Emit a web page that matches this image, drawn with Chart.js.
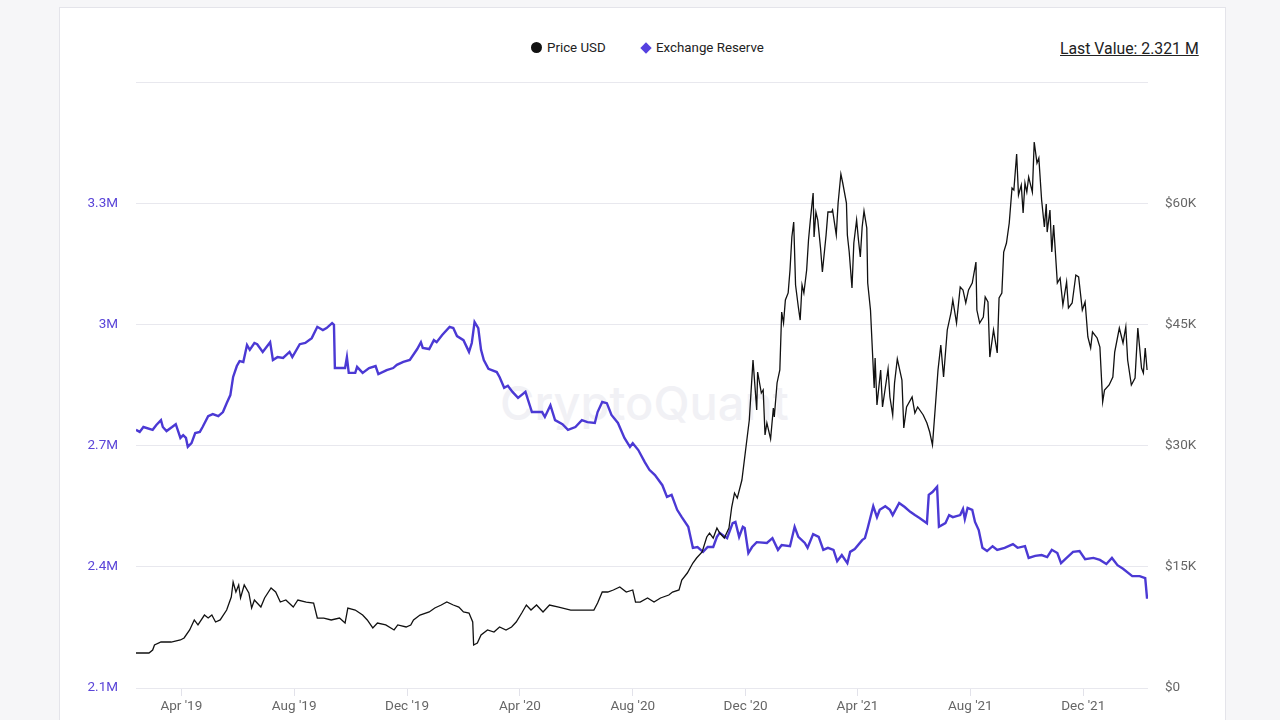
<!DOCTYPE html>
<html>
<head>
<meta charset="utf-8">
<script src="https://cdn.jsdelivr.net/npm/chart.js@4.4.1/dist/chart.umd.min.js"></script>
<style>
  html,body{margin:0;padding:0;background:#f6f6f8;width:1280px;height:720px;overflow:hidden;font-family:Roboto,"Noto Sans",sans-serif;}
  #card{position:absolute;left:59px;top:7px;width:1167px;height:730px;background:#fff;border:1px solid #e4e4ea;box-sizing:border-box;}
  #wrap{position:absolute;left:0;top:0;width:1280px;height:720px;}
  #wm{position:absolute;left:500px;top:374px;font-size:47px;color:#f1f1f5;font-family:Inter,Roboto,sans-serif;font-weight:500;}
  .leg{position:absolute;top:40px;font-size:13.3px;color:#222;display:flex;align-items:center;}
  .dot{width:11px;height:11px;border-radius:50%;background:#111;margin-right:5px;}
  .dia{width:8px;height:8px;background:#5540e0;transform:rotate(45deg);margin-right:6px;margin-left:2px;}
  #last{position:absolute;top:39px;left:1060px;font-size:15.8px;color:#222;text-decoration:underline;}
</style>
</head>
<body>
<div id="card"></div>
<div id="wm">CryptoQuant</div>
<div class="leg" style="left:531px;"><div class="dot"></div>Price USD</div>
<div class="leg" style="left:640px;"><div class="dia"></div>Exchange Reserve</div>
<div id="last">Last Value: 2.321 M</div>
<div id="wrap"><canvas id="c"></canvas></div>
<script>
const priceDates = ['2019-02-11','2019-02-25','2019-03-01','2019-03-03','2019-03-10','2019-03-21','2019-03-31','2019-04-04','2019-04-10','2019-04-15','2019-04-19','2019-04-26','2019-04-30','2019-05-04','2019-05-08','2019-05-13','2019-05-20','2019-05-25','2019-05-27','2019-05-30','2019-06-02','2019-06-04','2019-06-08','2019-06-13','2019-06-16','2019-06-19','2019-06-26','2019-06-30','2019-07-07','2019-07-12','2019-07-17','2019-07-23','2019-07-31','2019-08-05','2019-08-14','2019-08-22','2019-08-26','2019-09-02','2019-09-10','2019-09-19','2019-09-25','2019-09-28','2019-10-06','2019-10-14','2019-10-19','2019-10-25','2019-10-30','2019-11-08','2019-11-17','2019-11-21','2019-11-30','2019-12-05','2019-12-08','2019-12-15','2019-12-25','2019-12-31','2020-01-07','2020-01-13','2020-01-20','2020-01-26','2020-01-31','2020-02-06','2020-02-10','2020-02-11','2020-02-15','2020-02-19','2020-02-26','2020-03-04','2020-03-10','2020-03-17','2020-03-23','2020-03-28','2020-04-03','2020-04-08','2020-04-13','2020-04-19','2020-04-26','2020-05-03','2020-05-13','2020-05-26','2020-06-09','2020-06-20','2020-06-24','2020-06-29','2020-07-05','2020-07-11','2020-07-18','2020-07-25','2020-08-01','2020-08-04','2020-08-09','2020-08-17','2020-08-24','2020-08-31','2020-09-09','2020-09-13','2020-09-20','2020-09-23','2020-09-29','2020-10-05','2020-10-09','2020-10-15','2020-10-20','2020-10-23','2020-10-27','2020-10-31','2020-11-03','2020-11-08','2020-11-13','2020-11-16','2020-11-19','2020-11-22','2020-11-27','2020-12-01','2020-12-05','2020-12-09','2020-12-13','2020-12-14','2020-12-18','2020-12-20','2020-12-22','2020-12-24','2020-12-28','2020-12-31','2021-01-01','2021-01-04','2021-01-07','2021-01-09','2021-01-11','2021-01-13','2021-01-16','2021-01-18','2021-01-20','2021-01-22','2021-01-24','2021-01-27','2021-01-29','2021-01-31','2021-02-02','2021-02-05','2021-02-07','2021-02-09','2021-02-12','2021-02-13','2021-02-15','2021-02-17','2021-02-20','2021-02-22','2021-02-26','2021-02-28','2021-03-04','2021-03-05','2021-03-09','2021-03-11','2021-03-14','2021-03-16','2021-03-20','2021-03-21','2021-03-23','2021-03-26','2021-03-28','2021-03-31','2021-04-02','2021-04-04','2021-04-06','2021-04-08','2021-04-11','2021-04-12','2021-04-15','2021-04-19','2021-04-20','2021-04-22','2021-04-26','2021-04-28','2021-05-04','2021-05-06','2021-05-09','2021-05-11','2021-05-14','2021-05-19','2021-05-21','2021-05-24','2021-05-30','2021-06-02','2021-06-05','2021-06-11','2021-06-15','2021-06-18','2021-06-21','2021-06-24','2021-06-27','2021-06-30','2021-07-03','2021-07-07','2021-07-11','2021-07-13','2021-07-17','2021-07-21','2021-07-24','2021-07-27','2021-07-30','2021-08-03','2021-08-07','2021-08-08','2021-08-11','2021-08-15','2021-08-17','2021-08-20','2021-08-22','2021-08-26','2021-08-30','2021-09-01','2021-09-04','2021-09-06','2021-09-09','2021-09-12','2021-09-15','2021-09-17','2021-09-20','2021-09-22','2021-09-25','2021-09-27','2021-09-29','2021-10-01','2021-10-03','2021-10-07','2021-10-09','2021-10-12','2021-10-14','2021-10-17','2021-10-20','2021-10-22','2021-10-23','2021-10-26','2021-10-28','2021-10-30','2021-11-03','2021-11-06','2021-11-09','2021-11-13','2021-11-15','2021-11-19','2021-11-23','2021-11-26','2021-11-30','2021-12-03','2021-12-06','2021-12-09','2021-12-11','2021-12-16','2021-12-19','2021-12-22','2021-12-24','2021-12-29','2022-01-02','2022-01-04','2022-01-09','2022-01-13','2022-01-16','2022-01-18','2022-01-22','2022-01-26','2022-01-29','2022-02-02','2022-02-04','2022-02-06','2022-02-08'];
const priceValues = [4330,4330,4700,5320,5690,5690,5940,6190,7180,8420,7800,9030,8660,9030,8170,8420,9650,11260,13120,11880,12750,11140,12750,11760,9900,10890,10020,11140,12380,11880,10640,10890,10020,10890,10640,10520,8660,8660,8420,8660,8040,9900,9650,9030,8420,7430,8040,7800,7180,7800,7550,7800,8420,9030,9410,9900,10270,10640,10270,10020,9410,9280,8170,5320,5570,6560,7180,6930,7550,7180,7550,8170,9280,10270,9650,10270,9410,10270,10020,9650,9650,9650,10520,11880,11880,12130,12500,11880,12130,10640,10640,11140,10640,11140,11510,11880,12130,13370,14230,15470,16090,16830,18690,19180,18560,19800,19180,18560,19800,22400,24130,23510,25740,29450,33170,40590,34410,39110,36510,36880,31310,32800,30820,34650,33540,37750,39360,46530,45170,48020,48890,51730,55820,57670,49880,47150,45540,49880,48890,51730,55440,57920,61260,55820,58910,57920,54450,51480,56070,58910,58910,59160,56070,60020,63610,62500,60020,56070,53960,49500,55070,57920,55440,53340,57050,59030,56930,50120,46780,37130,40840,35020,39360,34780,39480,36010,33790,37750,40720,38120,32180,34780,36010,34030,34780,33790,32800,31680,30070,34650,39360,42450,38490,44310,46410,48020,45170,49630,49260,47650,49260,50120,52720,46780,45170,45910,48390,47770,40960,44310,41460,48270,48890,53960,55070,57550,61880,61630,66090,61010,62250,58790,62500,61380,63240,61380,67570,64970,65590,60390,57050,59900,56430,59160,53960,57300,50120,50740,47400,50250,47030,47650,51110,50870,46780,47770,43440,42080,44060,43320,42200,35400,36880,37500,38490,41580,44550,42700,44680,40590,37500,38370,44550,39600,38980,42080,39360];

const reserveDates = ['2019-02-11','2019-02-15','2019-02-19','2019-03-01','2019-03-05','2019-03-10','2019-03-12','2019-03-16','2019-03-22','2019-03-26','2019-03-31','2019-04-03','2019-04-06','2019-04-08','2019-04-12','2019-04-16','2019-04-21','2019-04-24','2019-04-30','2019-05-05','2019-05-11','2019-05-16','2019-05-20','2019-05-24','2019-05-27','2019-05-31','2019-06-03','2019-06-07','2019-06-11','2019-06-14','2019-06-19','2019-06-22','2019-06-28','2019-07-06','2019-07-09','2019-07-14','2019-07-20','2019-07-27','2019-07-30','2019-08-07','2019-08-13','2019-08-20','2019-08-26','2019-09-01','2019-09-05','2019-09-11','2019-09-13','2019-09-14','2019-09-19','2019-09-25','2019-09-27','2019-09-29','2019-10-06','2019-10-08','2019-10-14','2019-10-21','2019-10-28','2019-10-31','2019-11-09','2019-11-16','2019-11-20','2019-11-27','2019-12-04','2019-12-12','2019-12-16','2019-12-18','2019-12-25','2019-12-30','2020-01-02','2020-01-08','2020-01-16','2020-01-20','2020-01-24','2020-01-31','2020-02-06','2020-02-09','2020-02-12','2020-02-16','2020-02-19','2020-02-22','2020-02-27','2020-03-07','2020-03-10','2020-03-15','2020-03-19','2020-03-24','2020-03-30','2020-04-07','2020-04-14','2020-04-25','2020-04-28','2020-05-04','2020-05-09','2020-05-17','2020-05-23','2020-05-31','2020-06-07','2020-06-13','2020-06-21','2020-06-24','2020-06-29','2020-07-04','2020-07-09','2020-07-16','2020-07-23','2020-07-29','2020-08-01','2020-08-07','2020-08-14','2020-08-19','2020-08-25','2020-09-02','2020-09-07','2020-09-12','2020-09-18','2020-09-23','2020-09-30','2020-10-05','2020-10-10','2020-10-16','2020-10-21','2020-10-27','2020-10-31','2020-11-03','2020-11-11','2020-11-17','2020-11-20','2020-11-24','2020-11-28','2020-11-30','2020-12-04','2020-12-08','2020-12-13','2020-12-24','2020-12-30','2021-01-05','2021-01-09','2021-01-18','2021-01-23','2021-01-27','2021-02-03','2021-02-06','2021-02-12','2021-02-18','2021-02-23','2021-02-28','2021-03-06','2021-03-10','2021-03-15','2021-03-21','2021-03-24','2021-03-29','2021-04-06','2021-04-09','2021-04-12','2021-04-18','2021-04-22','2021-04-25','2021-05-01','2021-05-06','2021-05-09','2021-05-16','2021-05-22','2021-05-28','2021-06-02','2021-06-07','2021-06-15','2021-06-17','2021-06-21','2021-06-26','2021-06-28','2021-07-05','2021-07-09','2021-07-13','2021-07-21','2021-07-24','2021-07-26','2021-07-29','2021-08-03','2021-08-06','2021-08-10','2021-08-14','2021-08-19','2021-08-25','2021-08-30','2021-09-07','2021-09-16','2021-09-21','2021-09-29','2021-10-03','2021-10-10','2021-10-17','2021-10-23','2021-10-28','2021-11-03','2021-11-07','2021-11-13','2021-11-20','2021-11-27','2021-12-03','2021-12-12','2021-12-19','2021-12-26','2022-01-01','2022-01-07','2022-01-13','2022-01-23','2022-01-31','2022-02-06','2022-02-08'];
const reserveValues = [2.739,2.734,2.746,2.739,2.751,2.763,2.746,2.736,2.746,2.753,2.719,2.726,2.719,2.697,2.706,2.731,2.734,2.746,2.773,2.778,2.773,2.783,2.805,2.825,2.870,2.897,2.909,2.907,2.949,2.937,2.954,2.951,2.932,2.956,2.912,2.919,2.917,2.932,2.919,2.951,2.954,2.966,2.994,2.986,2.991,3.003,2.999,2.892,2.892,2.892,2.919,2.880,2.880,2.895,2.880,2.892,2.897,2.877,2.887,2.892,2.900,2.907,2.912,2.939,2.956,2.942,2.939,2.961,2.956,2.974,2.994,2.991,2.971,2.961,2.932,2.954,3.006,2.991,2.937,2.912,2.890,2.882,2.870,2.843,2.848,2.833,2.818,2.833,2.783,2.783,2.771,2.800,2.763,2.753,2.739,2.746,2.763,2.758,2.756,2.783,2.808,2.805,2.776,2.756,2.719,2.697,2.706,2.689,2.659,2.640,2.627,2.602,2.573,2.578,2.541,2.523,2.499,2.447,2.449,2.437,2.449,2.449,2.474,2.484,2.471,2.508,2.511,2.474,2.499,2.496,2.434,2.449,2.461,2.459,2.471,2.442,2.454,2.451,2.499,2.474,2.459,2.447,2.481,2.474,2.442,2.447,2.442,2.414,2.429,2.409,2.437,2.444,2.466,2.471,2.496,2.550,2.523,2.541,2.550,2.541,2.528,2.558,2.548,2.536,2.528,2.521,2.508,2.578,2.585,2.598,2.499,2.508,2.528,2.523,2.528,2.543,2.518,2.546,2.541,2.511,2.491,2.447,2.439,2.451,2.442,2.447,2.456,2.447,2.451,2.422,2.427,2.429,2.424,2.442,2.434,2.409,2.422,2.437,2.439,2.419,2.422,2.417,2.407,2.422,2.404,2.395,2.377,2.377,2.372,2.321];

const xRange = ['2019-02-11','2022-02-09'];
const xTickDates = ['2019-04-01','2019-08-01','2019-12-01','2020-04-01','2020-08-01','2020-12-01','2021-04-01','2021-08-01','2021-12-01'];
const xTickLabels = ["Apr '19","Aug '19","Dec '19","Apr '20","Aug '20","Dec '20","Apr '21","Aug '21","Dec '21"];
const reserveTickValues = [2.1,2.4,2.7,3.0,3.3,3.6];
const reserveTickLabels = ['2.1M','2.4M','2.7M','3M','3.3M',''];
const priceTickValues = [0,15000,30000,45000,60000,75000];
const priceTickLabels = ['$0','$15K','$30K','$45K','$60K',''];

function dayNum(s){return Date.UTC(+s.slice(0,4), +s.slice(5,7)-1, +s.slice(8,10))/864e5;}
const pricePts = priceDates.map((d,i)=>({x:dayNum(d), y:priceValues[i]}));
const reservePts = reserveDates.map((d,i)=>({x:dayNum(d), y:reserveValues[i]}));

const tickFont = {family:'Roboto, "Noto Sans", sans-serif', size:13.5};

new Chart(document.getElementById('c'), {
  type:'line',
  data:{datasets:[
    {label:'Price USD', data:pricePts, yAxisID:'yR', borderColor:'#111', borderWidth:1.3, pointRadius:0, tension:0, fill:false},
    {label:'Exchange Reserve', data:reservePts, yAxisID:'yL', borderColor:'#4b39d4', borderWidth:2.4, pointRadius:0, tension:0, fill:false}
  ]},
  options:{
    responsive:true, maintainAspectRatio:false, animation:false,
    layout:{padding:{top:82,left:0,right:0,bottom:0}},
    plugins:{legend:{display:false}, tooltip:{enabled:false}},
    scales:{
      x:{type:'linear', min:dayNum(xRange[0]), max:dayNum(xRange[1]),
        afterBuildTicks:s=>{s.ticks = xTickDates.map(d=>({value:dayNum(d)}));},
        afterFit:s=>{s.height=32;},
        ticks:{callback:(v)=>{const i=xTickDates.findIndex(d=>dayNum(d)===v); return i>=0?xTickLabels[i]:'';}, color:'#666', font:tickFont, padding:3, maxRotation:0, autoSkip:false},
        grid:{drawOnChartArea:false, drawTicks:true, tickLength:8, color:'#e2e2ea'},
        border:{display:false}
      },
      yL:{position:'left', min:2.1, max:3.6,
        afterBuildTicks:s=>{s.ticks = reserveTickValues.map(v=>({value:v}));},
        afterFit:s=>{s.width=136;},
        ticks:{callback:(v)=>{const i=reserveTickValues.findIndex(t=>Math.abs(t-v)<1e-6); return i>=0?reserveTickLabels[i]:'';}, color:'#5a45d8', font:tickFont, padding:18},
        grid:{color:'#e8e8ee', drawTicks:false, lineWidth:1},
        border:{display:false}
      },
      yR:{position:'right', min:0, max:75000,
        afterBuildTicks:s=>{s.ticks = priceTickValues.map(v=>({value:v}));},
        afterFit:s=>{s.width=132;},
        ticks:{callback:(v)=>{const i=priceTickValues.indexOf(v); return i>=0?priceTickLabels[i]:'';}, color:'#666', font:tickFont, padding:17},
        grid:{drawOnChartArea:false, drawTicks:false},
        border:{display:false}
      }
    }
  }
});
</script>
</body>
</html>
